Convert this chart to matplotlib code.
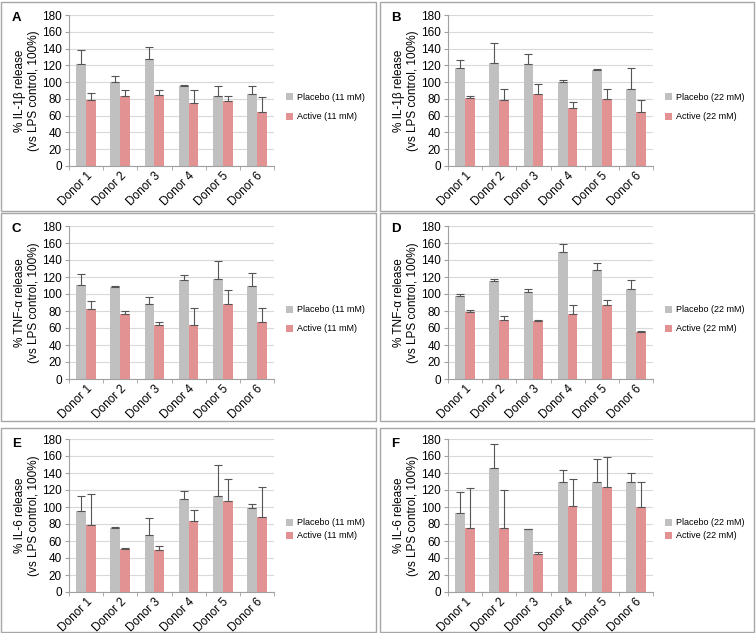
import matplotlib
matplotlib.use("Agg")
import matplotlib.pyplot as plt
import numpy as np
from matplotlib.patches import Rectangle

plt.rcParams['font.family'] = ['Liberation Sans', 'DejaVu Sans']

donors = ['Donor 1', 'Donor 2', 'Donor 3', 'Donor 4', 'Donor 5', 'Donor 6']

# panel A: IL-1b, 11 mM
a_placebo = [122, 100, 127, 95, 84, 86]
a_placebo_err = [16, 7, 15, 1, 11, 9]
a_active = [79, 83, 85, 75, 77, 64]
a_active_err = [8, 8, 6, 16, 6, 18]

# panel B: IL-1b, 22 mM
b_placebo = [117, 123, 122, 100, 115, 92]
b_placebo_err = [9, 24, 12, 3, 1, 25]
b_active = [81, 79, 86, 69, 80, 64]
b_active_err = [2, 13, 12, 7, 12, 15]

# panel C: TNF-a, 11 mM
c_placebo = [111, 108, 88, 117, 118, 110]
c_placebo_err = [12, 2, 9, 5, 21, 15]
c_active = [82, 77, 63, 63, 88, 67]
c_active_err = [10, 3, 4, 21, 17, 17]

# panel D: TNF-a, 22 mM
d_placebo = [98, 115, 102, 150, 128, 106]
d_placebo_err = [2, 3, 4, 9, 9, 10]
d_active = [79, 70, 68, 77, 87, 55]
d_active_err = [2, 4, 2, 10, 6, 1]

# panel E: IL-6, 11 mM
e_placebo = [95, 75, 67, 110, 113, 99]
e_placebo_err = [18, 1, 20, 9, 36, 4]
e_active = [79, 51, 49, 84, 107, 88]
e_active_err = [36, 1, 5, 13, 26, 35]

# panel F: IL-6, 22 mM
f_placebo = [93, 146, 74, 130, 130, 130]
f_placebo_err = [25, 28, 0.5, 13, 26, 10]
f_active = [75, 75, 45, 101, 123, 100]
f_active_err = [47, 45, 2, 32, 36, 29]

panels = [
    ('A', 'IL-1β', '11', a_placebo, a_placebo_err, a_active, a_active_err),
    ('B', 'IL-1β', '22', b_placebo, b_placebo_err, b_active, b_active_err),
    ('C', 'TNF-α', '11', c_placebo, c_placebo_err, c_active, c_active_err),
    ('D', 'TNF-α', '22', d_placebo, d_placebo_err, d_active, d_active_err),
    ('E', 'IL-6', '11', e_placebo, e_placebo_err, e_active, e_active_err),
    ('F', 'IL-6', '22', f_placebo, f_placebo_err, f_active, f_active_err),
]

W, H = 756, 633
fig = plt.figure(figsize=(W / 100, H / 100), dpi=100)

GRAY = '#c0c0c0'
PINK = '#e29292'
ERR = '#555555'
GRID = '#d9d9d9'

# panel boxes in pixels: (left, right) and (top, bottom)
col_x = [(1, 376), (380, 754)]
row_y = [(2, 211), (213, 421), (428, 632)]
# axes offsets inside a panel (y of 180 and y of 0 from panel top)
row_ax = [(13, 164), (13, 166), (11, 164)]
# legend anchor (fraction of axes height) and row spacing per row
row_leg = [(0.39, 1.15), (0.39, 1.1), (0.41, 0.45)]


def px_rect(l, t, r, b):
    return [l / W, 1 - b / H, (r - l) / W, (b - t) / H]


for i, (letter, cyto, conc, plc, plc_e, act, act_e) in enumerate(panels):
    col = i % 2
    row = i // 2
    pl, pr = col_x[col]
    pt, pb = row_y[row]
    fig.patches.append(Rectangle((pl / W, 1 - pb / H), (pr - pl) / W, (pb - pt) / H,
                                 transform=fig.transFigure, fill=False,
                                 edgecolor='#a6a6a6', linewidth=1.0))
    at, ab = row_ax[row]
    ax = fig.add_axes(px_rect(pl + 68, pt + at, pl + 273, pt + ab))

    x = np.arange(len(donors))
    w = 0.29
    ax.bar(x - w / 2, plc, w, color=GRAY, label='Placebo (%s mM)' % conc, zorder=2,
           yerr=[np.zeros(len(plc)), plc_e], capsize=3.2,
           error_kw=dict(ecolor=ERR, elinewidth=0.8, capthick=0.8))
    ax.bar(x + w / 2, act, w, color=PINK, label='Active (%s mM)' % conc, zorder=2,
           yerr=[np.zeros(len(act)), act_e], capsize=3.2,
           error_kw=dict(ecolor=ERR, elinewidth=0.8, capthick=0.8))

    ax.set_xlim(-0.5, len(donors) - 0.5)
    ax.set_ylim(0, 180)
    ax.set_yticks(np.arange(0, 181, 20))
    ax.yaxis.grid(True, color=GRID, linewidth=0.8, zorder=0)
    ax.set_axisbelow(True)
    ax.set_xticks(x)
    ax.set_xticklabels(donors, rotation=45, ha='right', rotation_mode='anchor', fontsize=8.5)
    ax.set_xticks(np.arange(-0.5, len(donors)), minor=True)
    ax.tick_params(axis='x', which='major', length=0, pad=3)
    ax.tick_params(axis='x', which='minor', length=3, color='#a0a0a0')
    ax.tick_params(axis='y', length=3, color='#a0a0a0', labelsize=8.5, pad=2)
    for s in ['top', 'right']:
        ax.spines[s].set_visible(False)
    for s in ['left', 'bottom']:
        ax.spines[s].set_color('#a0a0a0')
        ax.spines[s].set_linewidth(0.8)
    ax.set_ylabel('%% %s release\n(vs LPS control, 100%%)' % cyto, fontsize=8.5, labelpad=1.5,
                  linespacing=1.25)

    ly, lsp = row_leg[row]
    ax.legend(loc='center left', bbox_to_anchor=(1.04, ly), frameon=False, fontsize=6.5,
              handlelength=0.8, handleheight=0.8, handletextpad=0.4, labelspacing=lsp,
              borderaxespad=0)

    fig.text((pl + 11) / W, 1 - (pt + 16) / H, letter, fontsize=9.5, fontweight='bold',
             ha='left', va='center')

fig.savefig('out.png', dpi=100)
